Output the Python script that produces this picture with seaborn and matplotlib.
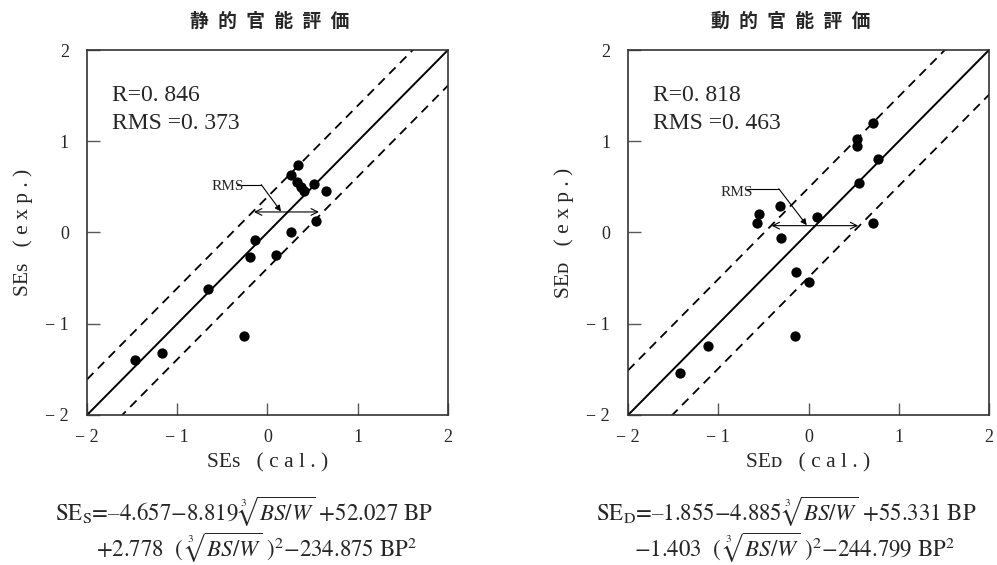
import matplotlib
matplotlib.use("Agg")
import matplotlib.pyplot as plt
import pandas as pd
import seaborn as sns

sns.set_style("ticks")
plt.rcParams["font.family"] = ["Liberation Serif", "DejaVu Serif", "DejaVu Sans"]
plt.rcParams["mathtext.fontset"] = "stix"

# static evaluation (SEs): calculated vs experimental
static_cal = [0.34, 0.26, 0.33, 0.37, 0.40, 0.52, 0.65, 0.54, 0.26, -0.14,
              -0.19, 0.09, -0.66, -0.26, -1.17, -1.47]
static_exp = [0.74, 0.63, 0.55, 0.50, 0.46, 0.53, 0.45, 0.13, 0.00, -0.08,
              -0.27, -0.25, -0.62, -1.13, -1.32, -1.40]

# dynamic evaluation (SEd): calculated vs experimental
dynamic_cal = [0.71, 0.54, 0.54, 0.77, 0.56, -0.32, -0.55, -0.57, 0.09, 0.71,
               -0.31, -0.14, 0.01, -0.15, -1.12, -1.42]
dynamic_exp = [1.20, 1.03, 0.95, 0.80, 0.54, 0.29, 0.20, 0.10, 0.17, 0.10,
               -0.06, -0.43, -0.54, -1.13, -1.24, -1.54]

titles = ["静\u2002的\u2002官\u2002能\u2002評\u2002価", "動\u2002的\u2002官\u2002能\u2002評\u2002価"]
r_text = ["R=0. 846", "R=0. 818"]
rms_text = ["RMS =0. 373", "RMS =0. 463"]
band = [0.39, 0.49]          # half width of dashed band
xlabels = ["SEs   ( c a l . )", "SEᴅ   ( c a l . )"]
ylabels = ["SEs   ( e x p . )", "SEᴅ   ( e x p . )"]
ticks = [-2, -1, 0, 1, 2]
tick_labels = ["− 2", "− 1", "0", "1", "2"]

formula1 = [r"SE$_{\mathrm{S}}$=–4.657−8.819$\,\sqrt[3]{BS/W}$ +52.027 BP",
            r"SE$_{\mathrm{D}}$=–1.855−4.885$\,\sqrt[3]{BS/W}$ +55.331 BP"]
formula2 = [r"+2.778  ( $\sqrt[3]{BS/W}$ )$^2$−234.875 BP$^2$",
            r"−1.403  ( $\sqrt[3]{BS/W}$ )$^2$−244.799 BP$^2$"]

# RMS annotation geometry (data coords): text pos, knee, arrow tip, span
rms_label_pos = [(-0.62, 0.50), (-0.98, 0.44)]
rms_knee = [(-0.07, 0.525), (-0.33, 0.48)]
rms_line_start = [-0.34, -0.68]
rms_tip = [(0.15, 0.23), (-0.02, 0.08)]
rms_span = [(-0.15, 0.57, 0.225), (-0.41, 0.55, 0.075)]

frames = [
    pd.DataFrame({"cal": static_cal, "exp": static_exp}),
    pd.DataFrame({"cal": dynamic_cal, "exp": dynamic_exp}),
]

fig = plt.figure(figsize=(9.97, 5.65), dpi=100)
ax_l = fig.add_axes([0.0873, 0.2655, 0.362, 0.646])
ax_r = fig.add_axes([0.630, 0.2655, 0.362, 0.646])
diag = [-2, 2]

for i, ax in enumerate([ax_l, ax_r]):
    df = frames[i]
    ax.plot(diag, diag, color="black", lw=1.4, zorder=2)
    for sgn in (1, -1):
        ax.plot(diag, [v + sgn * band[i] for v in diag], color="black",
                lw=1.3, ls=(0, (5, 3.5)), zorder=2)
    sns.scatterplot(data=df, x="cal", y="exp", color="black", s=55,
                    linewidth=0, ax=ax, zorder=3)

    ax.set_xlim(-2, 2)
    ax.set_ylim(-2, 2)
    ax.set_xticks(ticks)
    ax.set_yticks(ticks)
    ax.set_xticklabels(tick_labels)
    ax.set_yticklabels(tick_labels)
    ax.tick_params(direction="in", length=9, width=1, color="0.35",
                   labelsize=13, top=False, right=False)
    ax.tick_params(axis="x", pad=10)
    ax.tick_params(axis="y", pad=13)
    for sp in ax.spines.values():
        sp.set_linewidth(1.2)
        sp.set_color("0.2")

    ax.set_xlabel(xlabels[i], fontsize=15.5, labelpad=5)
    ax.set_ylabel(ylabels[i], fontsize=15.5, labelpad=9)

    ax.text(-1.72, 1.50, r_text[i], fontsize=17, va="center", ha="left")
    ax.text(-1.72, 1.20, rms_text[i], fontsize=17, va="center", ha="left")

    # RMS pointer
    ax.text(rms_label_pos[i][0], rms_label_pos[i][1], "RMS", fontsize=11,
            va="center", ha="left")
    ax.plot([rms_line_start[i], rms_knee[i][0]], [rms_knee[i][1]] * 2,
            color="black", lw=0.8)
    ax.annotate("", xy=rms_tip[i], xytext=rms_knee[i],
                arrowprops=dict(arrowstyle="-|>", color="black", lw=0.8,
                                mutation_scale=9, shrinkA=0, shrinkB=0))
    x0, x1, y0 = rms_span[i]
    ax.annotate("", xy=(x1, y0), xytext=(x0, y0),
                arrowprops=dict(arrowstyle="<->", color="black", lw=0.8,
                                mutation_scale=12, shrinkA=0, shrinkB=0))

fig.text(0.271, 0.962, titles[0], fontsize=13.5, fontweight="bold",
         ha="center", va="center", family=["Noto Sans CJK JP", "DejaVu Sans"])
fig.text(0.793, 0.962, titles[1], fontsize=13.5, fontweight="bold",
         ha="center", va="center", family=["Noto Sans CJK JP", "DejaVu Sans"])

for cx1, cx2, i in [(0.245, 0.257, 0), (0.789, 0.797, 1)]:
    fig.text(cx1, 0.094, formula1[i], fontsize=16.5, ha="center", va="center",
             family="STIXGeneral")
    fig.text(cx2, 0.030, formula2[i], fontsize=16.5, ha="center", va="center",
             family="STIXGeneral")

plt.savefig("out.png", dpi=100, facecolor="white")
plt.close()
print("Saved: out.png")
